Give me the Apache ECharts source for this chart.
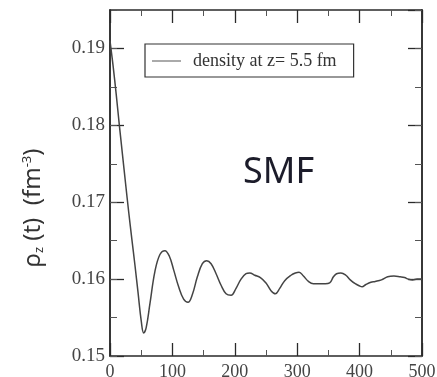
<!DOCTYPE html>
<html>
<head>
<meta charset="utf-8">
<title>SMF density</title>
<script src="https://cdn.jsdelivr.net/npm/echarts@6/dist/echarts.min.js"></script>
<style>
    html, body { margin: 0; padding: 0; background: #fff; }
    #chart { width: 437px; height: 377px; }
</style>
</head>
<body>
<div id="chart"></div>
<script>
    // time (fm/c) and density at z = 5.5 fm
    var times = [0, 5, 10, 15, 20, 25, 30, 35, 40, 45, 50, 54, 58, 64, 72, 80, 88, 95, 102, 110,
        118, 125, 132, 140, 148, 155, 162, 170, 178, 186, 194, 202, 210, 218, 224, 232, 241, 250,
        258, 265, 272, 280, 290, 297, 303, 310, 318, 326, 335, 345, 352, 358, 363, 370, 378, 385,
        393, 400, 404, 410, 418, 425, 435, 445, 455, 465, 472, 478, 485, 492, 500];
    var density = [0.1910, 0.1877, 0.1840, 0.1800, 0.1762, 0.1724, 0.1687, 0.1652, 0.1618, 0.1582,
        0.1546, 0.1530, 0.1537, 0.1568, 0.1610, 0.1632, 0.1637, 0.1630, 0.1612, 0.1590,
        0.1574, 0.1570, 0.1580, 0.1603, 0.1620, 0.1624, 0.1620, 0.1607, 0.1592, 0.1581,
        0.1579, 0.1588, 0.1600, 0.1607, 0.1608, 0.1605, 0.1602, 0.1595, 0.1585, 0.1581,
        0.1588, 0.1598, 0.1605, 0.1608, 0.1609, 0.1604, 0.1597, 0.1594, 0.1594, 0.1594,
        0.1595, 0.1603, 0.1607, 0.1608, 0.1605, 0.1599, 0.1594, 0.1591, 0.1590, 0.1593,
        0.1596, 0.1597, 0.1599, 0.1603, 0.1604, 0.1603, 0.1602, 0.1600, 0.1599, 0.1600, 0.1600];
    var xTicks = { min: 0, max: 500, step: 100 };
    var yTicks = { min: 0.15, max: 0.195, step: 0.01, minorStep: 0.005 };
    var seriesName = 'density at z= 5.5 fm';

    var points = times.map(function (t, i) { return [t, density[i]]; });

    var axisLine = { show: true, lineStyle: { color: '#2a2a2a', width: 1.5 } };
    var serif = 'Liberation Serif';

    function xAxis(pos, labels) {
        return {
            type: 'value', position: pos, min: xTicks.min, max: xTicks.max, interval: xTicks.step,
            axisLine: axisLine,
            axisTick: { inside: true, length: 13, lineStyle: { color: '#2a2a2a', width: 1.3 } },
            minorTick: { show: true, splitNumber: 2, length: 6, lineStyle: { color: '#555', width: 1 } },
            axisLabel: { show: labels, fontFamily: serif, fontSize: 18, color: '#444', margin: 7 },
            splitLine: { show: false }
        };
    }
    function yAxis(pos, major, labels) {
        var a = {
            type: 'value', position: pos, min: yTicks.min, max: yTicks.max,
            interval: major ? yTicks.step : yTicks.minorStep,
            axisLine: axisLine,
            axisTick: { inside: true, length: major ? 14 : 7,
                lineStyle: { color: major ? '#2a2a2a' : '#555', width: major ? 1.3 : 1 } },
            axisLabel: { show: labels, fontFamily: serif, fontSize: 19, color: '#444', margin: 5,
                showMaxLabel: false,
                formatter: function (v) { return v.toFixed(2); } },
            splitLine: { show: false }
        };
        if (labels) {
            a.name = '{a|ρ}{s|z}{a| (t)  (fm}{p|-3}{a|)}';
            a.nameLocation = 'middle';
            a.nameRotate = 90;
            a.nameGap = 64;
            a.nameTextStyle = {
                fontFamily: 'Noto Sans', fontSize: 24, color: '#333', padding: [0, 50, 0, 0],
                rich: {
                    a: { fontFamily: 'Noto Sans', fontSize: 24, color: '#333' },
                    s: { fontFamily: 'Noto Sans', fontSize: 13, color: '#333', verticalAlign: 'bottom', padding: [12, 0, 0, 0] },
                    p: { fontFamily: 'Noto Sans', fontSize: 13, color: '#333', verticalAlign: 'top', padding: [0, 0, 10, 0] }
                }
            };
        }
        return a;
    }

    var chart = echarts.init(document.getElementById('chart'));
    chart.setOption({
        animation: false,
        backgroundColor: '#fff',
        grid: { left: 110, right: 15, top: 10, bottom: 21, outerBoundsMode: 'none' },
        title: {
            text: 'SMF', left: 243, top: 155, padding: 0,
            textStyle: { fontFamily: 'Noto Sans', fontSize: 36, fontWeight: 'normal', color: '#1c1c2a' }
        },
        legend: {
            left: 145, top: 44, padding: [8, 17, 7, 7],
            borderColor: '#333', borderWidth: 1.2, backgroundColor: '#fff',
            itemWidth: 29, itemHeight: 1,
            data: [{ name: seriesName, icon: 'rect' }],
            textStyle: { fontFamily: serif, fontSize: 18, color: '#333', padding: [0, 0, 0, 7] }
        },
        xAxis: [xAxis('bottom', true), xAxis('top', false)],
        yAxis: [yAxis('left', true, true), yAxis('left', false, false),
            yAxis('right', true, false), yAxis('right', false, false)],
        series: [{
            name: seriesName, type: 'line', xAxisIndex: 0, yAxisIndex: 0,
            data: points, smooth: 0.4, symbol: 'none',
            itemStyle: { color: '#555' },
            lineStyle: { color: '#444', width: 1.5 }
        }]
    });
    window.onresize = chart.resize;
</script>
</body>
</html>
